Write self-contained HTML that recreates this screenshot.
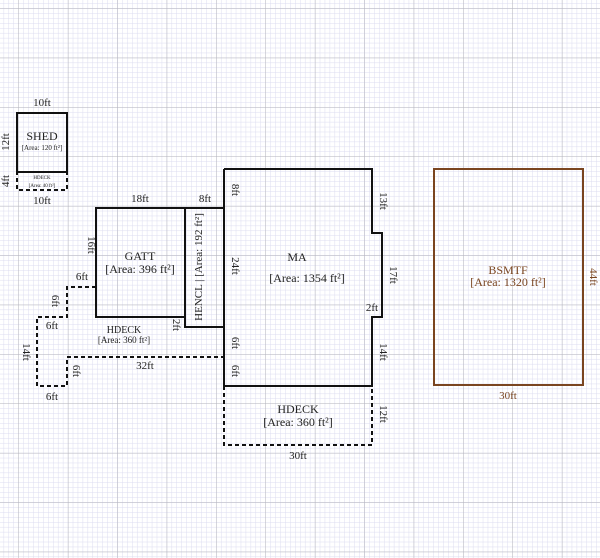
<!DOCTYPE html>
<html><head><style>
html,body{margin:0;padding:0;background:#fff;}
svg{display:block;}
text{font-family:"Liberation Serif",serif;fill:#222;}
</style></head><body>
<svg width="600" height="558" xmlns="http://www.w3.org/2000/svg">
<defs>
<pattern id="fine" x="3.6" y="3.3" width="4.94" height="4.94" patternUnits="userSpaceOnUse">
<path d="M0 0H4.94M0 0V4.94" stroke="#dcdcf0" stroke-width="1" fill="none"/>
</pattern>
<pattern id="big" x="18.5" y="8.3" width="49.4" height="49.4" patternUnits="userSpaceOnUse">
<path d="M0 0H49.4M0 0V49.4" stroke="#b4b4bc" stroke-width="1" fill="none"/>
</pattern>
</defs>
<rect width="600" height="558" fill="#fff"/>
<rect width="600" height="558" fill="url(#fine)"/>
<rect width="600" height="558" fill="url(#big)"/>

<g fill="none" stroke="#111" stroke-width="2">
<rect x="17" y="113" width="50" height="59"/>
<rect x="17" y="172" width="50" height="18" stroke-dasharray="4,3"/>
<rect x="96" y="208" width="89" height="109"/>
<polyline points="185,208 224,208"/>
<polyline points="185,317 185,327 224,327"/>
<polyline points="224,169 372,169 372,233 382,233 382,317 372,317 372,386 224,386 224,169"/>
<polyline points="224,386 224,445 372,445 372,386" stroke-dasharray="4,3"/>
<polyline points="96,287 67,287 67,317 37,317 37,386 67,386 67,357 224,357" stroke-dasharray="4,3"/>
</g>
<rect x="434" y="169" width="149" height="216" fill="none" stroke="#7a4520" stroke-width="2"/>

<g font-size="11" text-anchor="middle">
<text x="42" y="106">10ft</text>
<text x="42" y="204">10ft</text>
<text x="42" y="140" font-size="12">SHED</text>
<text x="42" y="150" font-size="7">[Area: 120 ft²]</text>
<text x="42" y="179" font-size="5">HDECK</text>
<text x="42" y="187" font-size="5">[Area: 40 ft²]</text>
<text transform="translate(9,142) rotate(-90)">12ft</text>
<text transform="translate(9,181) rotate(-90)">4ft</text>

<text x="140" y="202">18ft</text>
<text x="205" y="202">8ft</text>
<text x="140" y="260" font-size="12">GATT</text>
<text x="140" y="273" font-size="12">[Area: 396 ft²]</text>
<text transform="translate(88,245) rotate(90)">16ft</text>
<text transform="translate(202,267) rotate(-90)" font-size="11">HENCL | [Area: 192 ft²]</text>
<text transform="translate(173,325) rotate(90)">2ft</text>

<text x="82" y="280">6ft</text>
<text transform="translate(52,301) rotate(90)">6ft</text>
<text x="52" y="329">6ft</text>
<text transform="translate(23,352) rotate(90)">14ft</text>
<text x="52" y="400">6ft</text>
<text transform="translate(73,371) rotate(90)">6ft</text>
<text x="145" y="369">32ft</text>
<text x="124" y="333" font-size="10">HDECK</text>
<text x="124" y="343" font-size="9">[Area: 360 ft²]</text>

<text transform="translate(232,190) rotate(90)">8ft</text>
<text transform="translate(232,266) rotate(90)">24ft</text>
<text transform="translate(232,343) rotate(90)">6ft</text>
<text transform="translate(232,371) rotate(90)">6ft</text>
<text x="297" y="261" font-size="12">MA</text>
<text x="307" y="282" font-size="12">[Area: 1354 ft²]</text>
<text transform="translate(380,201) rotate(90)">13ft</text>
<text transform="translate(390,275) rotate(90)">17ft</text>
<text x="372" y="311">2ft</text>
<text transform="translate(380,352) rotate(90)">14ft</text>
<text x="298" y="413" font-size="12">HDECK</text>
<text x="298" y="426" font-size="12">[Area: 360 ft²]</text>
<text transform="translate(380,414) rotate(90)">12ft</text>
<text x="298" y="459">30ft</text>

<text x="508" y="274" font-size="12" style="fill:#7a4520">BSMTF</text>
<text x="508" y="286" font-size="12" style="fill:#7a4520">[Area: 1320 ft²]</text>
<text x="508" y="399" style="fill:#7a4520">30ft</text>
<text transform="translate(590,277) rotate(90)" style="fill:#7a4520">44ft</text>
</g>
</svg>
</body></html>
